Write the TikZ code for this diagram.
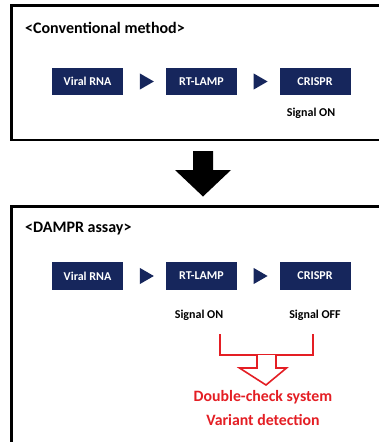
\documentclass[tikz,border=0pt]{standalone}
\usepackage{fontspec}
\setmainfont{Carlito}
\usetikzlibrary{shapes.geometric,calc}
\definecolor{navy}{RGB}{22,38,92}
\definecolor{myred}{RGB}{228,30,36}
\begin{document}
\begin{tikzpicture}[x=1pt,y=-1pt,
  frame/.style={draw=black,line width=2.6pt},
  stepbox/.style={fill=navy,text=white,minimum width=71pt,minimum height=27.5pt,inner sep=0pt,font=\fontsize{12}{14}\selectfont\bfseries},
  tri/.style={isosceles triangle,fill=navy,minimum height=14pt,minimum width=13pt,inner sep=0pt,isosceles triangle apex angle=60},
  sig/.style={font=\fontsize{12}{14}\selectfont\bfseries,inner sep=0pt},
  ttl/.style={font=\fontsize{16}{19}\selectfont\bfseries,anchor=west,inner sep=0pt},
  red/.style={font=\fontsize{15.8}{19}\selectfont\bfseries,text=myred,inner sep=0pt},
  bracket/.style={draw=myred,line width=2.2pt},
  hollow/.style={draw=myred,line width=1.6pt,fill=white,line join=miter}]
\useasboundingbox (0,0) rectangle (379,442);
\fill[white] (0,0) rectangle (379,442);
% top frame
\draw[frame] (380,5.5) -- (11.5,5.5) -- (11.5,140) -- (380,140);
\node[ttl] (t1) at (25,27.5) {<Conventional method>};
\node[stepbox] (a1) at (87.5,81.5) {Viral RNA};
\node[stepbox] (b1) at (201.5,81.5) {RT-LAMP};
\node[stepbox] (c1) at (315,81.5) {CRISPR};
\node[tri] (ab1) at ($(a1)!0.5!(b1)$) {};
\node[tri] (bc1) at ($(b1)!0.5!(c1)$) {};
\node[sig] (s1) at (311,113) {Signal ON};
% big arrow
\fill[black] (193,151) -- (213,151) -- (213,170) -- (231,170) -- (203,196.5) -- (175,170) -- (193,170) -- cycle;
% bottom frame
\draw[frame] (380,206.5) -- (11.5,206.5) -- (11.5,443);
\node[ttl] (t2) at (25,229) {<DAMPR assay>};
\node[stepbox] (a2) at (87.5,276) {Viral RNA};
\node[stepbox] (b2) at (201.5,276) {RT-LAMP};
\node[stepbox] (c2) at (315,276) {CRISPR};
\node[tri] (ab2) at ($(a2)!0.5!(b2)$) {};
\node[tri] (bc2) at ($(b2)!0.5!(c2)$) {};
\node[sig] (s2) at (199,315) {Signal ON};
\node[sig] (s3) at (315,315) {Signal OFF};
\coordinate (bl) at (220,334);
\coordinate (br) at (312.7,334);
\draw[bracket] (bl) -- (220,355) -- (312.7,355) -- (br);
\draw[hollow] (257,355) -- (257,368) -- (239.5,368) -- (266,385) -- (286.5,368) -- (276,368) -- (276,355);
\node[red] (r1) at (263,397) {Double-check system};
\node[red] (r2) at (263,420) {Variant detection};
\end{tikzpicture}
\end{document}
